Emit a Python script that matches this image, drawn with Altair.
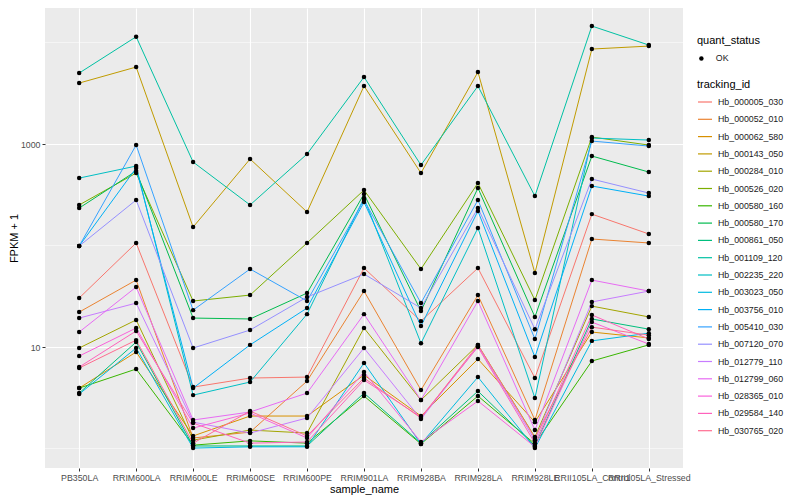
import altair as alt
import pandas as pd

samples = ["PB350LA", "RRIM600LA", "RRIM600LE", "RRIM600SE", "RRIM600PE", "RRIM901LA",
           "RRIM928BA", "RRIM928LA", "RRIM928LE", "RRII105LA_Control", "RRII105LA_Stressed"]

tracking_ids = ["Hb_000005_030", "Hb_000052_010", "Hb_000062_580", "Hb_000143_050", "Hb_000284_010",
                "Hb_000526_020", "Hb_000580_160", "Hb_000580_170", "Hb_000861_050", "Hb_001109_120",
                "Hb_002235_220", "Hb_003023_050", "Hb_003756_010", "Hb_005410_030", "Hb_007120_070",
                "Hb_012779_110", "Hb_012799_060", "Hb_028365_010", "Hb_029584_140", "Hb_030765_020"]

hue_colors = ["#F8766D", "#EA8331", "#D89000", "#C09B00", "#A3A500", "#7CAE00", "#39B600", "#00BB4E",
              "#00BF7D", "#00C1A3", "#00BFC4", "#00BAE0", "#00B0F6", "#35A2FF", "#9590FF", "#C77CFF",
              "#E76BF3", "#FA62DB", "#FF62BC", "#FF6C91"]

# FPKM + 1 per sample (order of `samples`)
hb_000005_030 = [30.4, 106, 4.03, 4.95, 5.06, 60.0, 18.0, 60.0, 4.95, 204, 130]
hb_000052_010 = [22.1, 45.7, 1.27, 1.45, 4.62, 35.6, 3.77, 32.5, 1.91, 116, 106]
hb_000062_580 = [3.94, 8.93, 1.33, 2.09, 2.09, 5.30, 2.09, 7.62, 1.82, 14.05, 12.3]
hb_000143_050 = [3990, 5736, 152, 712, 214, 3727, 518, 5121, 53.6, 8630, 9230]
hb_000284_010 = [9.78, 18.5, 1.21, 1.52, 1.42, 15.4, 3.00, 10.5, 1.30, 25.3, 19.8]
hb_000526_020 = [251, 518, 28.4, 32.5, 106, 352, 58.7, 413, 29.0, 1172, 977]
hb_000580_160 = [3.94, 6.07, 1.08, 1.19, 1.13, 3.29, 1.11, 3.29, 1.11, 7.28, 10.5]
hb_000580_170 = [234, 542, 19.3, 18.9, 34.0, 322, 22.6, 369, 19.8, 762, 530]
hb_000861_050 = [3.52, 11.2, 1.06, 1.06, 1.06, 3.52, 1.13, 3.68, 1.06, 18.9, 15.0]
hb_001109_120 = [5005, 11405, 665, 251, 797, 4573, 621, 3727, 307, 14540, 9450]
hb_002235_220 = [462, 607, 3.36, 4.52, 21.1, 294, 10.9, 149, 3.14, 1146, 1095]
hb_003023_050 = [3.44, 9.78, 1.01, 1.04, 1.04, 6.96, 1.11, 5.06, 1.01, 11.5, 13.7]
hb_003756_010 = [98.9, 580, 3.94, 10.5, 24.2, 268, 16.1, 219, 7.97, 386, 307]
hb_005410_030 = [98.9, 977, 23.1, 58.7, 28.4, 281, 27.1, 281, 12.0, 1070, 955]
hb_007120_070 = [98.9, 281, 9.78, 14.7, 31.1, 52.4, 24.2, 234, 15.0, 452, 329]
hb_012779_110 = [19.3, 27.1, 1.82, 1.42, 2.00, 9.78, 1.95, 10.2, 1.21, 27.8, 35.6]
hb_012799_060 = [14.05, 39.0, 1.91, 2.29, 3.52, 21.1, 3.00, 28.4, 1.52, 45.7, 35.6]
hb_028365_010 = [8.15, 15.4, 1.59, 2.24, 1.27, 5.67, 1.16, 2.94, 1.04, 17.6, 10.7]
hb_029584_140 = [6.35, 14.4, 1.78, 1.13, 1.16, 4.73, 2.04, 10.0, 1.13, 20.7, 12.0]
hb_030765_020 = [6.21, 11.7, 1.13, 2.34, 1.33, 4.95, 2.00, 10.5, 1.27, 15.7, 13.1]

series = [hb_000005_030, hb_000052_010, hb_000062_580, hb_000143_050, hb_000284_010,
          hb_000526_020, hb_000580_160, hb_000580_170, hb_000861_050, hb_001109_120,
          hb_002235_220, hb_003023_050, hb_003756_010, hb_005410_030, hb_007120_070,
          hb_012779_110, hb_012799_060, hb_028365_010, hb_029584_140, hb_030765_020]

y_major = [10, 1000]
y_minor = [1, 100, 10000]

rows = []
for tid, vals in zip(tracking_ids, series):
    for s, v in zip(samples, vals):
        rows.append({"tracking_id": tid, "sample_name": s, "value": v, "quant_status": "OK"})
df = pd.DataFrame(rows)
minor_df = pd.DataFrame({"value": y_minor})

FONT = "Liberation Sans"

x_enc = alt.X("sample_name:N", sort=samples, scale=alt.Scale(type="point", padding=0.6),
              axis=alt.Axis(title="sample_name", labelAngle=0, labelOverlap=False,
                            labelFontSize=8.8, labelColor="#4D4D4D", labelPadding=2,
                            tickColor="#333333", tickSize=3, domain=False,
                            grid=True, gridColor="white", gridWidth=1.1,
                            titleFontSize=11, titleFontWeight="normal", titleColor="black",
                            titlePadding=2, titleFont=FONT, labelFont=FONT))
y_enc = alt.Y("value:Q", scale=alt.Scale(type="log", domain=[0.643, 21900], nice=False, zero=False),
              axis=alt.Axis(title="FPKM + 1", values=y_major, format="d",
                            labelFontSize=8.8, labelColor="#4D4D4D", labelPadding=2,
                            tickColor="#333333", tickSize=3, domain=False,
                            grid=True, gridColor="white", gridWidth=1.1,
                            titleFontSize=11, titleFontWeight="normal", titleColor="black",
                            titlePadding=1, titleFont=FONT, labelFont=FONT))

minor = alt.Chart(minor_df).mark_rule(color="white", strokeWidth=0.55).encode(y=alt.Y("value:Q"))

lines = alt.Chart(df).mark_line(strokeWidth=1).encode(
    x=x_enc, y=y_enc,
    color=alt.Color("tracking_id:N", scale=alt.Scale(domain=tracking_ids, range=hue_colors),
                    legend=alt.Legend(title="tracking_id", orient="none", legendX=652, legendY=71,
                                      symbolType="stroke", symbolSize=196, symbolStrokeWidth=1.2,
                                      rowPadding=4.3, titlePadding=4, labelOffset=5,
                                      labelFontSize=8.8, labelColor="#1A1A1A", labelFont=FONT,
                                      labelLimit=200,
                                      titleFontSize=11, titleFontWeight="normal", titleColor="black",
                                      titleFont=FONT)),
)

points = alt.Chart(df).mark_point(filled=True, color="black", size=20, opacity=1).encode(
    x=alt.X("sample_name:N", sort=samples),
    y=alt.Y("value:Q"),
    shape=alt.Shape("quant_status:N", scale=alt.Scale(domain=["OK"], range=["circle"]),
                    legend=alt.Legend(title="quant_status", orient="none", legendX=652, legendY=27,
                                      symbolSize=20, symbolFillColor="black", symbolStrokeColor="black",
                                      titlePadding=8, labelOffset=10,
                                      labelFontSize=8.8, labelColor="#1A1A1A", labelFont=FONT,
                                      titleFontSize=11, titleFontWeight="normal", titleColor="black",
                                      titleFont=FONT)),
)

chart = alt.layer(minor, lines, points).properties(
    width=638, height=460,
    autosize=alt.AutoSizeParams(type="none"),
    padding={"left": 37, "top": 0, "right": 108, "bottom": 32},
).configure_view(fill="#EBEBEB", strokeWidth=0)

chart.save("out.html", embed_options={"renderer": "svg", "actions": False})
